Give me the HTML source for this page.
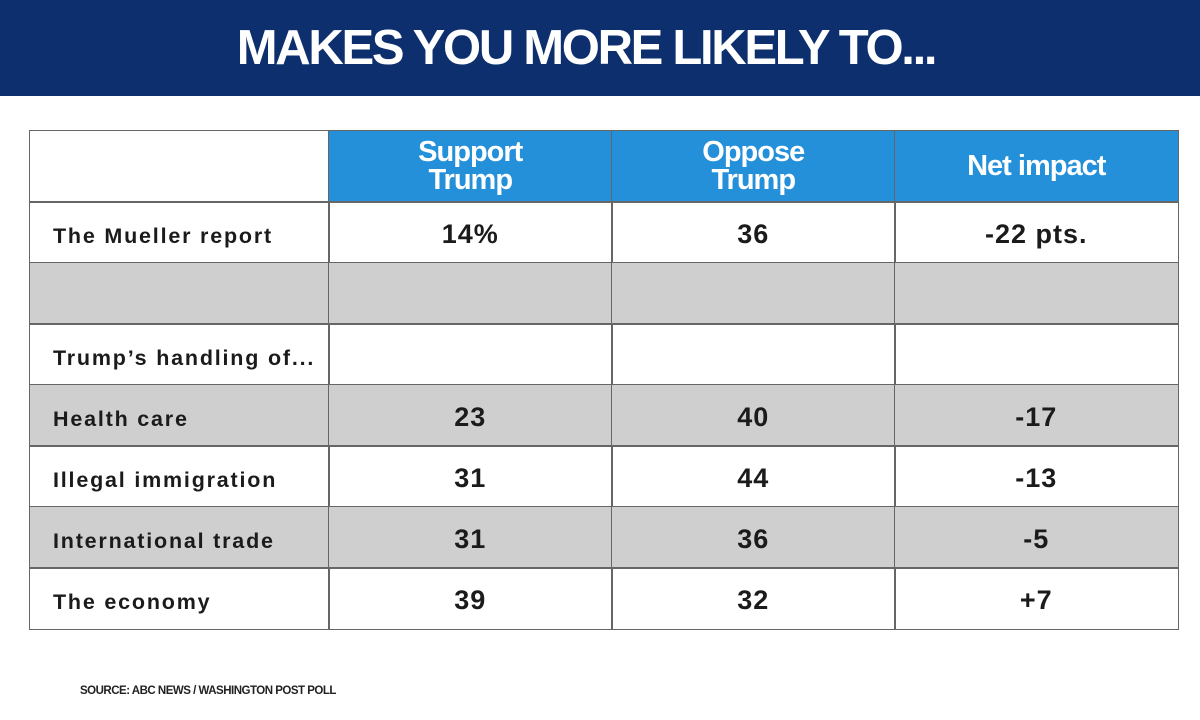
<!DOCTYPE html>
<html><head><meta charset="utf-8"><style>
*{margin:0;padding:0;box-sizing:border-box}
body{width:1200px;height:720px;background:#fff;position:relative;overflow:hidden;font-family:"Liberation Sans",sans-serif}
#hdr{position:absolute;left:0;top:0;width:1200px;height:96px;background:#0d2f6e;color:#fff;font-weight:bold;font-size:49px;text-align:center;line-height:96px;letter-spacing:-2.3px;padding-right:28px}
.c{position:absolute;border:1.5px solid #666;display:flex;align-items:center;justify-content:center;font-weight:bold;color:#1b1b1b}
.h{background:#2490d9;color:#fff;font-size:29px;line-height:28px;text-align:center;letter-spacing:-1px}
.lab{justify-content:flex-start;padding-left:23px;padding-top:8px;font-size:21.5px;letter-spacing:1.8px}
.val{font-size:27px;letter-spacing:1px;padding-top:4px}
.g{background:#cfcfcf}
#src{position:absolute;left:80px;top:685px;font-size:11.5px;font-weight:bold;color:#222;letter-spacing:-0.5px}
</style></head><body>
<div id="hdr">MAKES YOU MORE LIKELY TO...</div>
<div id="tbl"></div>
<div id="src">SOURCE: ABC NEWS / WASHINGTON POST POLL</div>
<script>
const headers=["","Support<br>Trump","Oppose<br>Trump","Net impact"];
const rowLabels=["The Mueller report","","Trump’s handling of...","Health care","Illegal immigration","International trade","The economy"];
const supportVals=["14%","","","23","31","31","39"];
const opposeVals=["36","","","40","44","36","32"];
const netVals=["-22 pts.","","","-17","-13","-5","+7"];
const grayRows=[false,true,false,true,false,true,false];
const colX=[29,328,611,894,1177];
const top0=130,hh=71,rh=61;
const t=document.getElementById('tbl');
function cell(x,y,w,h,cls,html,name){
  const d=document.createElement('div');
  d.className='c '+cls;
  d.style.left=x+'px';d.style.top=y+'px';d.style.width=(w+1.5)+'px';d.style.height=(h+1.5)+'px';
  d.innerHTML=html;
  
  
  t.appendChild(d);
}
for(let i=0;i<4;i++){
  cell(colX[i],top0,colX[i+1]-colX[i],hh,i?'h':'',headers[i],'header-cell-'+i);
}
for(let r=0;r<rowLabels.length;r++){
  const y=top0+hh+r*rh;const g=grayRows[r]?' g':'';
  const cols=[rowLabels[r],supportVals[r],opposeVals[r],netVals[r]];
  for(let i=0;i<4;i++){
    cell(colX[i],y,colX[i+1]-colX[i],rh,(i?'val':'lab')+g,cols[i],(i?'value-cell-':'row-label-')+r+'-'+i);
  }
}
</script>
</body></html>
